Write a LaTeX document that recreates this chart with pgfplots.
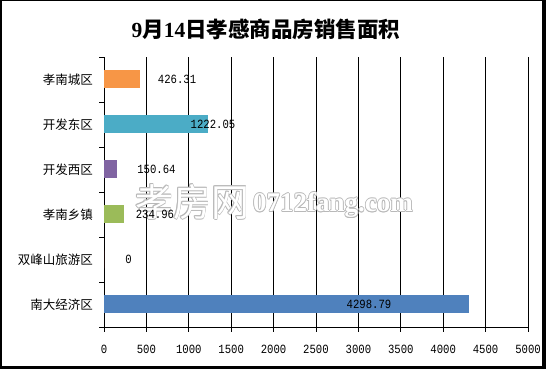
\documentclass[border=0pt]{standalone}
\usepackage{fontspec}
\setmainfont{Liberation Serif}
\newfontfamily\numfont[FakeStretch=0.85]{Liberation Mono}
\newfontfamily\cjk{Noto Sans CJK SC}
\newfontfamily\cjkb{Noto Sans CJK SC Bold}
\usepackage{pgfplots}
\pgfplotsset{compat=1.18}
\definecolor{cOrange}{HTML}{F79646}
\definecolor{cTeal}{HTML}{4BACC6}
\definecolor{cPurple}{HTML}{8064A2}
\definecolor{cGreen}{HTML}{9BBB59}
\definecolor{cRed}{HTML}{C0504D}
\definecolor{cBlue}{HTML}{4F81BD}
\newcommand{\wm}[4]{%
  \foreach \dx/\dy in {-0.7/0,0.7/0,0/-0.7,0/0.7,-0.5/-0.5,0.5/0.5,-0.5/0.5,0.5/-0.5}
    {\node[font=#1, text=gray!55] at ($(#2,#3)+(\dx,\dy)$) {#4};}
  \node[font=#1, text=white] at (#2,#3) {#4};}
\usetikzlibrary{calc}
\begin{document}
\begin{tikzpicture}[x=1pt,y=1pt]
\fill[black] (0,0) rectangle (546,369);
\fill[white] (2,3) rectangle (542,368);
\node[font=\bfseries\fontsize{21.5}{21.5}\selectfont] at (266,340) {9{\cjkb 月}14{\cjkb 日孝感商品房销售面积}};
\begin{axis}[at={(104pt,42pt)}, anchor=south west, scale only axis,
  width=424pt, height=270pt,
  xmin=0, xmax=5000, ymin=-0.5, ymax=5.5,
  axis x line*=bottom, axis y line*=left,
  axis line style={-, black, line width=0.8pt},
  tick align=outside, major tick length=5pt,
  tick style={black, line width=0.8pt},
  xtick={0,500,1000,1500,2000,2500,3000,3500,4000,4500,5000},
  xticklabels={0,500,1000,1500,2000,2500,3000,3500,4000,4500,5000},
  xticklabel style={font=\numfont\fontsize{12.5}{12.5}\selectfont, anchor=center, yshift=-17pt},
  ytick={-0.5,0.5,1.5,2.5,3.5,4.5,5.5},
  yticklabels={},
  extra y ticks={0,1,2,3,4,5},
  extra y tick labels={南大经济区,双峰山旅游区,孝南乡镇,开发西区,开发东区,孝南城区},
  extra y tick style={major tick length=0pt, grid=none,
     yticklabel style={font=\cjk\fontsize{12.5}{12.5}\selectfont, anchor=east, inner sep=0pt, xshift=-11pt}},
  xmajorgrids, grid style={black, line width=0.8pt},
  clip=false,
]
\addplot[xbar, bar width=18pt, bar shift=0pt, fill=cOrange, draw=none] coordinates {(426.31,5)};
\addplot[xbar, bar width=18pt, bar shift=0pt, fill=cTeal, draw=none] coordinates {(1222.05,4)};
\addplot[xbar, bar width=18pt, bar shift=0pt, fill=cPurple, draw=none] coordinates {(150.64,3)};
\addplot[xbar, bar width=18pt, bar shift=0pt, fill=cGreen, draw=none] coordinates {(234.96,2)};
\addplot[xbar, bar width=18pt, bar shift=0pt, fill=cRed, draw=none] coordinates {(0,1)};
\addplot[xbar, bar width=18pt, bar shift=0pt, fill=cBlue, draw=none] coordinates {(4298.79,0)};
\end{axis}
\wm{\cjk\fontsize{38}{38}\selectfont}{192}{167}{孝房网}
\wm{\bfseries\fontsize{27}{27}\selectfont}{333}{164}{0712fang.com}
\begin{axis}[at={(104pt,42pt)}, anchor=south west, scale only axis,
  width=424pt, height=270pt,
  xmin=0, xmax=5000, ymin=-0.5, ymax=5.5, hide axis, clip=false]
\node[font=\numfont\fontsize{12.5}{12.5}\selectfont] at (axis cs:861,5) {426.31};
\node[font=\numfont\fontsize{12.5}{12.5}\selectfont] at (axis cs:1285,4) {1222.05};
\node[font=\numfont\fontsize{12.5}{12.5}\selectfont] at (axis cs:619,3) {150.64};
\node[font=\numfont\fontsize{12.5}{12.5}\selectfont] at (axis cs:601,2) {234.96};
\node[font=\numfont\fontsize{12.5}{12.5}\selectfont] at (axis cs:289,1) {0};
\node[font=\numfont\fontsize{12.5}{12.5}\selectfont] at (axis cs:3125,0) {4298.79};
\end{axis}
\end{tikzpicture}
\end{document}
